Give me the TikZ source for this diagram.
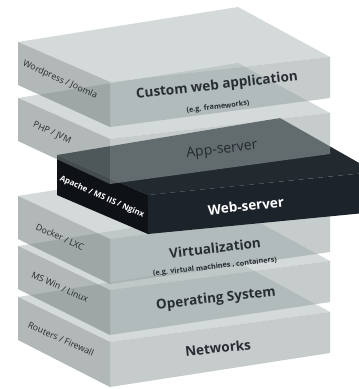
\documentclass[tikz,border=0pt]{standalone}
\usepackage{fontspec}
\setmainfont{Open Sans}
\usepackage{tikz}
\usepackage{xcolor}

\definecolor{topc}{RGB}{176,185,185}
\definecolor{leftc}{RGB}{115,125,125}
\definecolor{frontc}{RGB}{151,162,162}
\definecolor{wsfront}{RGB}{28,35,42}
\definecolor{wstop}{RGB}{34,41,47}
\definecolor{wsleft}{RGB}{14,17,21}
\definecolor{labelc}{RGB}{40,45,51}
\definecolor{sidec}{RGB}{36,41,46}

% one grey slab: #1 = y of the left corner, #2 = drop to the front corner
\newcommand{\slab}[2]{%
\fill[topc,fill opacity=0.55] (18,#1) -- (238,#1-35) -- (330,#1+15) -- (110,#1+#2) -- cycle;
\fill[leftc,fill opacity=0.55] (18,#1) -- (110,#1+#2) -- (110,#1+#2+45) -- (18,#1+43) -- cycle;
\fill[frontc,fill opacity=0.55] (110,#1+#2) -- (330,#1+15) -- (330,#1+56) -- (110,#1+#2+45) -- cycle;
}

\begin{document}
\begin{tikzpicture}[x=1pt,y=-1pt,
  side/.style={text=sidec,rotate=-24,inner sep=0pt,font=\fontsize{8.8}{9}\selectfont},
  title/.style={text=labelc,rotate=6.5,inner sep=0pt,font=\fontsize{13.5}{14}\selectfont\bfseries},
  note/.style={text=labelc,rotate=6.5,inner sep=0pt,font=\fontsize{7.2}{7.5}\selectfont\bfseries}]
\useasboundingbox (0,0) rectangle (359,389);
\clip (0,0) rectangle (359,389);

\slab{297}{45}
\node[side] (routers) at (61,339) {Routers / Firewall};
\node[title] (net) at (218,348) {Networks};

\slab{246}{44}
\node[side] (mswin) at (60,287) {MS Win / Linux};
\node[title] (os) at (216,299) {Operating System};

\slab{196}{43}
\node[side] (docker) at (60,237) {Docker / LXC};
\node[title] (virt) at (215,248) {Virtualization};
\node[note] (virtnote) at (215,267) {(e.g. virtual machines , containers)};

% web-server box
\fill[wstop] (57,155) -- (280,118) -- (375,172) -- (148,195) -- cycle;
\fill[wsleft] (57,155) -- (148,195) -- (148,234) -- (57,195) -- cycle;
\fill[wsfront] (148,195) -- (375,172) -- (375,212) -- (148,234) -- cycle;
\node[side,text=white,font=\fontsize{8}{8}\selectfont\bfseries] (apache) at (102,197) {Apache / MS IIS / Nginx};
\node[title,text=white] (web) at (246,206) {Web-server};

\slab{98}{41}
\node[side] (php) at (52,133) {PHP / JVM};
\node[title,text=sidec,font=\fontsize{14}{14}\selectfont] (app) at (222,150) {App-server};

\slab{42}{40}
\node[side] (wp) at (60,80) {Wordpress / Joomla};
\node[title] (custom) at (217,86) {Custom web application};
\node[note] (customnote) at (218,107) {(e.g. frameworks)};
\end{tikzpicture}
\end{document}
